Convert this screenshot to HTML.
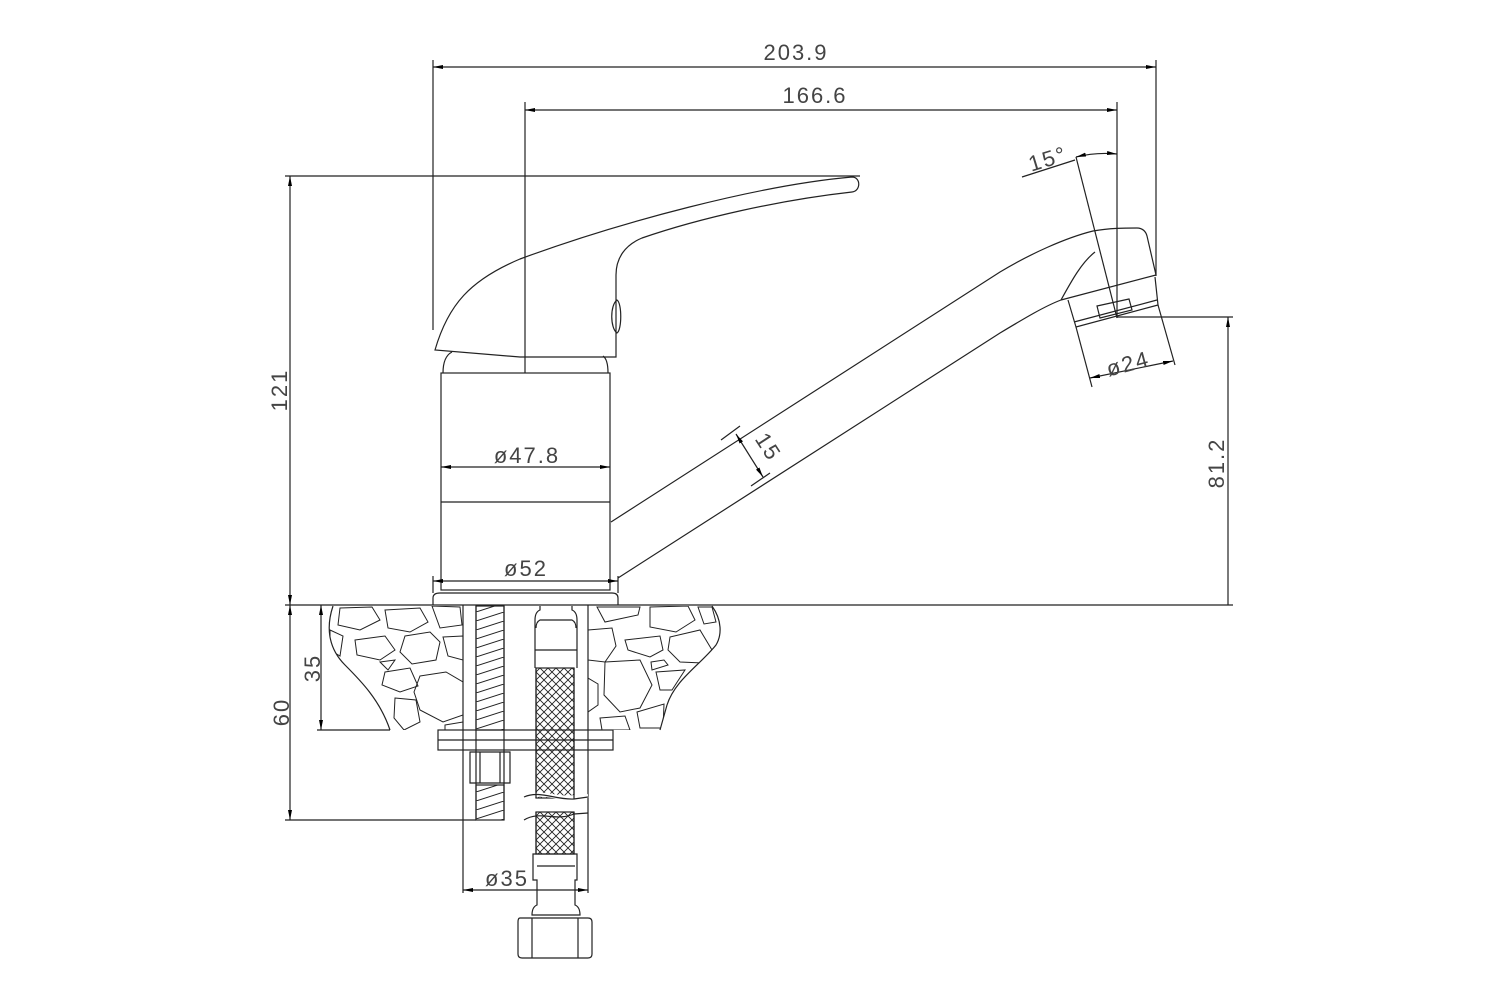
<!DOCTYPE html>
<html><head><meta charset="utf-8"><style>
html,body{margin:0;padding:0;background:#fff}
svg{display:block}
text{font-family:"Liberation Sans",sans-serif;font-size:22px;fill:#444;letter-spacing:2px}
</style></head><body>
<svg width="1500" height="1000" viewBox="0 0 1500 1000" xmlns="http://www.w3.org/2000/svg">
<defs>
<marker id="a" viewBox="0 0 10 4" refX="10" refY="2" markerWidth="10" markerHeight="4" orient="auto-start-reverse" markerUnits="userSpaceOnUse"><path d="M0,0L10,2L0,4z" fill="#000"/></marker>
<clipPath id="stoneL"><path d="M333,606 L463,606 L463,730 L390,730 C380,700 360,680 345,665 C330,650 325,630 333,606Z"/></clipPath>
<clipPath id="stoneR"><path d="M588,606 L712,606 C722,620 722,635 716,645 C700,665 675,680 667,705 L660,730 L588,730Z"/></clipPath>
<pattern id="hatch" width="28" height="9" patternUnits="userSpaceOnUse"><path d="M0,9 L28,0" stroke="#222" stroke-width="1"/></pattern>
<pattern id="mesh" width="8" height="8" patternUnits="userSpaceOnUse"><path d="M0,0L8,8M8,0L0,8" stroke="#222" stroke-width="0.9"/></pattern>
</defs>
<g fill="none" stroke="#222" stroke-width="1.2">
<line x1="433" y1="60" x2="433" y2="330"/>
<line x1="1156" y1="60" x2="1156" y2="276"/>
<line x1="433" y1="67" x2="1156" y2="67" marker-start="url(#a)" marker-end="url(#a)"/>
<line x1="525" y1="102" x2="525" y2="373"/>
<line x1="1117" y1="102" x2="1117" y2="318"/>
<line x1="525" y1="110" x2="1117" y2="110" marker-start="url(#a)" marker-end="url(#a)"/>
<line x1="285" y1="176" x2="860" y2="176"/>
<line x1="290" y1="176" x2="290" y2="605" marker-start="url(#a)" marker-end="url(#a)"/>
<line x1="285" y1="605" x2="1233" y2="605"/>
<path d="M435,350 C448,305 470,280 520,259 C620,222 760,185 852,177 C861,177 861,191 852,192 C780,200 700,218 642,238 C625,245 616,258 616,275 L616,357 L520,357 Z"/>
<path d="M617,300 C610,305 610,328 617,333 C622,330 622,303 617,300Z"/>
<path d="M443,373 C443,362 446,355 452,352"/>
<path d="M608,373 C608,364 606,358 603,356"/>
<rect x="441" y="373" width="169" height="217"/>
<line x1="441" y1="502" x2="610" y2="502"/>
<line x1="433" y1="581" x2="618" y2="581" marker-start="url(#a)" marker-end="url(#a)"/>
<line x1="441" y1="467" x2="610" y2="467" marker-start="url(#a)" marker-end="url(#a)"/>
<path d="M433,605 L433,598 Q433,593 440,593 L612,593 Q618,593 618,598 L618,605"/>
<line x1="433" y1="576" x2="433" y2="593"/>
<line x1="618" y1="576" x2="618" y2="593"/>
<path d="M611,522 L1000,272 C1030,254 1065,238 1093,231 C1110,228 1125,228 1137,228 C1143,228 1146,232 1147,236 L1156,275"/>
<path d="M618,578 L1000,333 C1025,318 1045,306 1061,300"/>
<path d="M1061,300 C1072,280 1082,262 1095,252"/>
<path d="M1061,300 L1156,275"/>
<path d="M1068,300 L1076,327 L1158,305 L1155,277"/>
<line x1="1074" y1="322" x2="1157" y2="300"/>
<path d="M1097,306 L1129,299 L1132,310 L1100,318Z"/>
<line x1="721" y1="440" x2="740" y2="426"/>
<line x1="751" y1="486" x2="770" y2="473"/>
<line x1="736" y1="434" x2="763" y2="477" marker-start="url(#a)" marker-end="url(#a)"/>
<line x1="1076" y1="157" x2="1117" y2="318"/>
<path d="M1076,157 Q1096,152 1117,154" marker-start="url(#a)" marker-end="url(#a)"/>
<line x1="1022" y1="177" x2="1075" y2="160"/>
<line x1="1076" y1="327" x2="1092" y2="387"/>
<line x1="1158" y1="305" x2="1175" y2="365"/>
<line x1="1090" y1="378" x2="1173" y2="361" marker-start="url(#a)" marker-end="url(#a)"/>
<line x1="1117" y1="317" x2="1233" y2="317"/>
<line x1="1228" y1="317" x2="1228" y2="605" marker-start="url(#a)"/>
<path d="M333,606 C325,630 330,650 345,665 C360,680 380,700 390,730"/>
<path d="M712,606 C722,620 722,635 716,645 C700,665 675,680 667,705 L660,730"/>
<g clip-path="url(#stoneL)" stroke-width="1">
<polygon points="340,608 372,607 380,620 360,630 338,625"/>
<polygon points="385,610 420,608 428,622 410,632 388,628"/>
<polygon points="432,606 460,607 462,625 440,628"/>
<polygon points="355,640 385,636 395,650 380,660 357,655"/>
<polygon points="405,636 430,632 440,642 436,660 412,664 400,652"/>
<polygon points="443,637 463,636 463,660 448,656"/>
<polygon points="380,662 395,660 388,670"/>
<polygon points="385,672 410,668 418,686 400,692 382,685"/>
<polygon points="420,676 446,672 463,682 463,715 443,722 420,710 414,692"/>
<polygon points="395,698 416,700 420,722 404,730 394,718"/>
<polygon points="445,725 463,722 463,730 445,730"/>
<polygon points="330,630 343,636 340,656 330,650"/>
</g>
<g clip-path="url(#stoneR)" stroke-width="1">
<polygon points="597,607 640,607 638,615 605,622"/>
<polygon points="650,607 688,606 695,620 676,632 650,627"/>
<polygon points="698,607 712,607 716,622 704,624"/>
<polygon points="588,630 612,628 616,646 605,662 588,660"/>
<polygon points="625,640 660,636 663,650 650,657 628,650"/>
<polygon points="670,637 700,630 712,650 703,663 680,662 668,650"/>
<polygon points="651,662 664,660 668,665 652,670"/>
<polygon points="605,662 640,660 652,685 640,708 620,712 604,695"/>
<polygon points="656,672 685,670 672,690 660,690"/>
<polygon points="588,678 598,684 598,705 588,712"/>
<polygon points="637,712 664,704 663,728 640,728"/>
<polygon points="600,718 625,716 630,730 602,730"/>
</g>
<line x1="463" y1="605" x2="463" y2="893"/>
<line x1="588" y1="605" x2="588" y2="893"/>
<line x1="317" y1="730" x2="390" y2="730"/>
<line x1="321" y1="605" x2="321" y2="730" marker-start="url(#a)" marker-end="url(#a)"/>
<line x1="285" y1="820" x2="476" y2="820"/>
<line x1="290" y1="605" x2="290" y2="820" marker-start="url(#a)" marker-end="url(#a)"/>
<line x1="463" y1="890" x2="588" y2="890" marker-start="url(#a)" marker-end="url(#a)"/>
<rect x="438" y="730" width="175" height="20" fill="#fff"/>
<line x1="438" y1="740" x2="613" y2="740"/>
<line x1="463" y1="730" x2="463" y2="750"/>
<line x1="588" y1="730" x2="588" y2="750"/>
<rect x="476" y="606" width="28" height="124" fill="url(#hatch)"/>
<rect x="476" y="785" width="28" height="35" fill="url(#hatch)"/>
<line x1="476" y1="606" x2="476" y2="820"/>
<line x1="504" y1="606" x2="504" y2="820"/>
<path d="M470,752 L510,752 L510,783 L470,783 Z"/>
<line x1="480" y1="752" x2="480" y2="783"/>
<line x1="500" y1="752" x2="500" y2="783"/>
<path d="M535,668 L535,620 Q535,612 540,610 L540,606 M572,606 L572,610 Q577,612 577,620 L577,668"/>
<line x1="535" y1="650" x2="577" y2="650"/>
<path d="M536,628 Q536,622 540,620 L572,620 Q576,622 576,628"/>
<rect x="536" y="668" width="38" height="130" fill="url(#mesh)"/>
<rect x="536" y="812" width="38" height="42" fill="url(#mesh)"/>
<path d="M524,797 C545,790 555,800 575,797 L588,796" fill="#fff" stroke="#fff" stroke-width="4"/>
<path d="M524,797 C540,790 555,800 574,799 L588,797"/>
<path d="M524,820 C540,810 555,822 574,814 L588,813"/>
<line x1="536" y1="668" x2="536" y2="798"/>
<line x1="574" y1="668" x2="574" y2="799"/>
<line x1="536" y1="812" x2="536" y2="854"/>
<line x1="574" y1="812" x2="574" y2="854"/>
<path d="M533,854 L577,854 L577,880 L575,880 L575,905 Q580,907 580,915 L532,915 Q532,907 537,905 L537,880 L533,880Z"/>
<line x1="537" y1="866" x2="575" y2="866"/>
<path d="M520,918 Q518,918 518,922 L518,954 Q518,958 522,958 L588,958 Q592,958 592,954 L592,922 Q592,918 588,918Z"/>
<line x1="532" y1="918" x2="532" y2="958"/>
<line x1="578" y1="918" x2="578" y2="958"/>
</g>
<text x="796" y="60" text-anchor="middle">203.9</text>
<text x="815" y="103" text-anchor="middle">166.6</text>
<text x="292" y="390" text-anchor="middle" transform="rotate(-90 292 390)" dy="-5">121</text>
<text x="527" y="471" text-anchor="middle" dy="-8">ø47.8</text>
<text x="526" y="576" text-anchor="middle">ø52</text>
<text x="1050" y="166" text-anchor="middle" transform="rotate(-17 1050 166)">15°</text>
<text x="1130" y="371" text-anchor="middle" transform="rotate(-15 1130 371)">ø24</text>
<text x="1224" y="463" text-anchor="middle" transform="rotate(-90 1224 463)">81.2</text>
<text x="762" y="451" text-anchor="middle" transform="rotate(57 762 451)">15</text>
<text x="320" y="668" text-anchor="middle" transform="rotate(-90 320 668)">35</text>
<text x="289" y="712" text-anchor="middle" transform="rotate(-90 289 712)">60</text>
<text x="507" y="886" text-anchor="middle">ø35</text>
</svg>
</body></html>
